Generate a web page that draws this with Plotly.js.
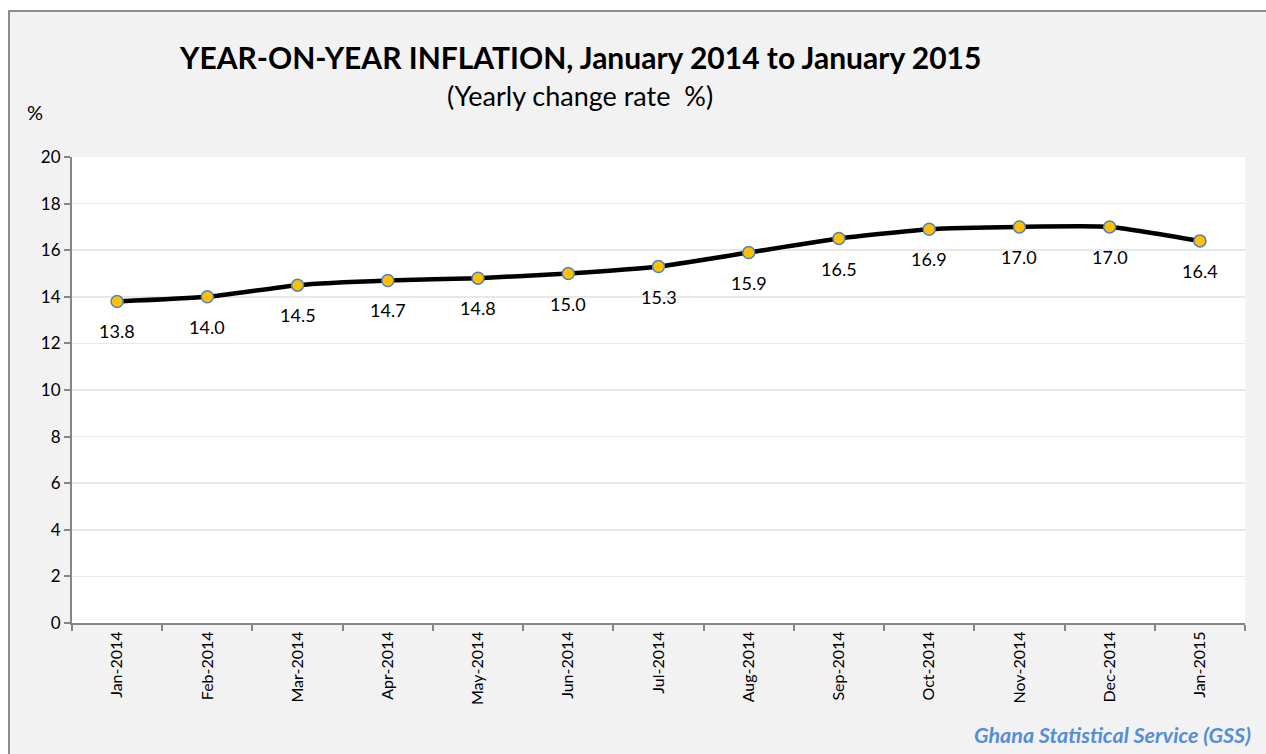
<!DOCTYPE html>
<html>
<head>
<meta charset="utf-8">
<script src="https://cdn.plot.ly/plotly-3.0.1.min.js"></script>
<style>
  html, body { margin: 0; padding: 0; background: #ffffff; overflow: hidden; width: 1266px; height: 754px; }
  #chart { position: absolute; left: 8px; top: 10px; width: 1256px; height: 742px;
           border-left: 2px solid #8c8c8c; border-top: 2px solid #8c8c8c; }
</style>
</head>
<body>
<div id="chart"></div>
<script>
const months = ["Jan-2014","Feb-2014","Mar-2014","Apr-2014","May-2014","Jun-2014","Jul-2014",
                "Aug-2014","Sep-2014","Oct-2014","Nov-2014","Dec-2014","Jan-2015"];
const inflation = [13.8, 14.0, 14.5, 14.7, 14.8, 15.0, 15.3, 15.9, 16.5, 16.9, 17.0, 17.0, 16.4];
const yTicks = [0, 2, 4, 6, 8, 10, 12, 14, 16, 18, 20];

const FONT = "Lato, 'Open Sans', sans-serif";

const trace = {
  x: months, y: inflation, type: "scatter", mode: "lines+markers",
  line: { color: "#000000", width: 4.5, shape: "spline", smoothing: 0.5 },
  marker: { size: 12, color: "#FFC000", line: { color: "#4F81BD", width: 1.5 } },
  hoverinfo: "skip", showlegend: false
};

const labelAnns = months.map((m, i) => ({
  x: m, y: inflation[i], xref: "x", yref: "y", text: inflation[i].toFixed(1),
  showarrow: false, yshift: -30, font: { family: FONT, size: 18, color: "#000000" }
}));

const layout = {
  width: 1256, height: 742,
  margin: { l: 62, r: 21, t: 145, b: 131 },
  paper_bgcolor: "#f2f2f2", plot_bgcolor: "#ffffff",
  font: { family: FONT, color: "#000000" },
  xaxis: {
    type: "category", range: [-0.5, 12.5], tickson: "boundaries",
    ticks: "outside", ticklen: 6, tickwidth: 2, tickcolor: "#868686",
    showline: true, linecolor: "#868686", linewidth: 2, showgrid: false, zeroline: false,
    tickangle: -90, tickfont: { family: FONT, size: 16, color: "#000000" }, fixedrange: true
  },
  yaxis: {
    range: [0, 20], tickvals: yTicks, ticktext: yTicks.map(String),
    ticks: "outside", ticklen: 6, tickwidth: 2, tickcolor: "#868686",
    showline: true, linecolor: "#868686", linewidth: 2,
    showgrid: true, gridcolor: "#e8e8e8", gridwidth: 1.5, zeroline: false,
    tickfont: { family: FONT, size: 17, color: "#000000" }, fixedrange: true
  },
  annotations: [
    { xref: "paper", yref: "paper", x: 0.433, y: 1.2146, yanchor: "middle", xanchor: "center",
      text: "<b>YEAR-ON-YEAR INFLATION, January 2014 to January 2015</b>", showarrow: false,
      font: { family: FONT, size: 30, color: "#000000" } },
    { xref: "paper", yref: "paper", x: 0.433, y: 1.133, yanchor: "middle", xanchor: "center",
      text: "(Yearly change rate&nbsp;&nbsp;%)", showarrow: false,
      font: { family: FONT, size: 27, color: "#000000" } },
    { xref: "paper", yref: "paper", x: -0.0315, y: 1.0966, yanchor: "middle", xanchor: "center",
      text: "%", showarrow: false, font: { family: FONT, size: 20, color: "#000000" } },
    { xref: "paper", yref: "paper", x: 1.0068, y: -0.2403, yanchor: "middle", xanchor: "right",
      text: "<b><i>Ghana Statistical Service (GSS)</i></b>", showarrow: false,
      font: { family: FONT, size: 21.5, color: "#558ED5" } }
  ].concat(labelAnns)
};

Plotly.newPlot("chart", [trace], layout, { displayModeBar: false, staticPlot: true });
</script>
</body>
</html>
